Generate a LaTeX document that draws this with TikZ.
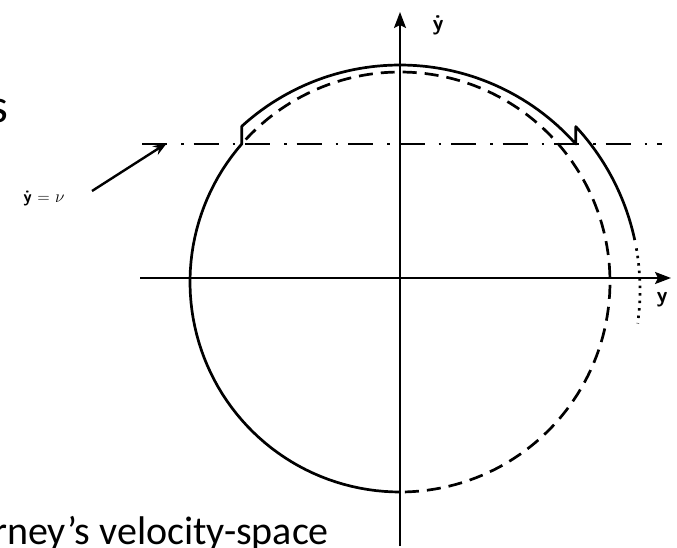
\documentclass[tikz,border=0pt]{standalone}
\usepackage{fontspec}
\newfontfamily\capfont{Carlito}
\usetikzlibrary{arrows.meta,positioning}

\begin{document}
\begin{tikzpicture}[
    x=1pt,y=-1pt,
    axis/.style={line width=2.2pt,-{Stealth[length=16pt,width=12pt,inset=3pt]}},
    orbit/.style={line width=2.7pt,line join=round},
    shifted/.style={orbit,dash pattern=on 14pt off 8pt,dash phase=-6pt},
    faint/.style={orbit,dash pattern=on 2.5pt off 5pt},
    level/.style={line width=2pt,dash pattern=on 25pt off 14pt on 2.5pt off 10pt},
    lbl/.style={font=\sffamily\bfseries\fontsize{22}{22}\selectfont,inner sep=0pt},
    caption/.style={font=\capfont\fontsize{40}{40}\selectfont,inner sep=0pt}
  ]
  \useasboundingbox (0,0) rectangle (677,548);
  \clip (0,0) rectangle (677,548);

  \coordinate (vbot) at (400,546);
  \coordinate (vtop) at (400,12);
  \coordinate (hleft) at (140,278);
  \coordinate (hright) at (671,278);
  \draw[axis] (vbot) -- (vtop);
  \draw[axis] (hleft) -- (hright);
  \node[lbl] (ydot) at (438,25) {\.y};
  \node[lbl] (yax) at (662,300) {y};

  \coordinate (lvlL) at (142,144);
  \coordinate (lvlR) at (662,144);
  \draw[level] (lvlL) -- (lvlR);

  \draw[orbit]
    plot[domain=90:221.08,samples=60] ({400+210*cos(\x)},{282+210*sin(\x)})
    -- plot[domain=227.68:318.41,samples=60] ({400+235*cos(\x)},{300+235*sin(\x)})
    -- plot[domain=317.1:348,samples=30] ({400+240*cos(\x)},{290+240*sin(\x)});
  \draw[shifted] plot[domain=221.08:450,samples=120] ({400+210*cos(\x)},{282+210*sin(\x)});
  \draw[faint] plot[domain=350:368,samples=20] ({400+240*cos(\x)},{290+240*sin(\x)});

  \node[font=\sffamily\fontsize{17}{17}\selectfont,inner sep=0pt] (vel) at (44,199) {\textbf{\.y} = $\nu$};
  \coordinate (ptail) at (92,191);
  \coordinate (ptip) at (167,143);
  \draw[line width=2.4pt,-{Stealth[length=14pt,width=10pt]}] (ptail) -- (ptip);

  \node[caption,font=\capfont\fontsize{48}{48}\selectfont,anchor=base east] (title) at (8,123) {s};
  \node[caption,anchor=base west] (cap) at (-7,544) {rney’s velocity-space};
\end{tikzpicture}
\end{document}
